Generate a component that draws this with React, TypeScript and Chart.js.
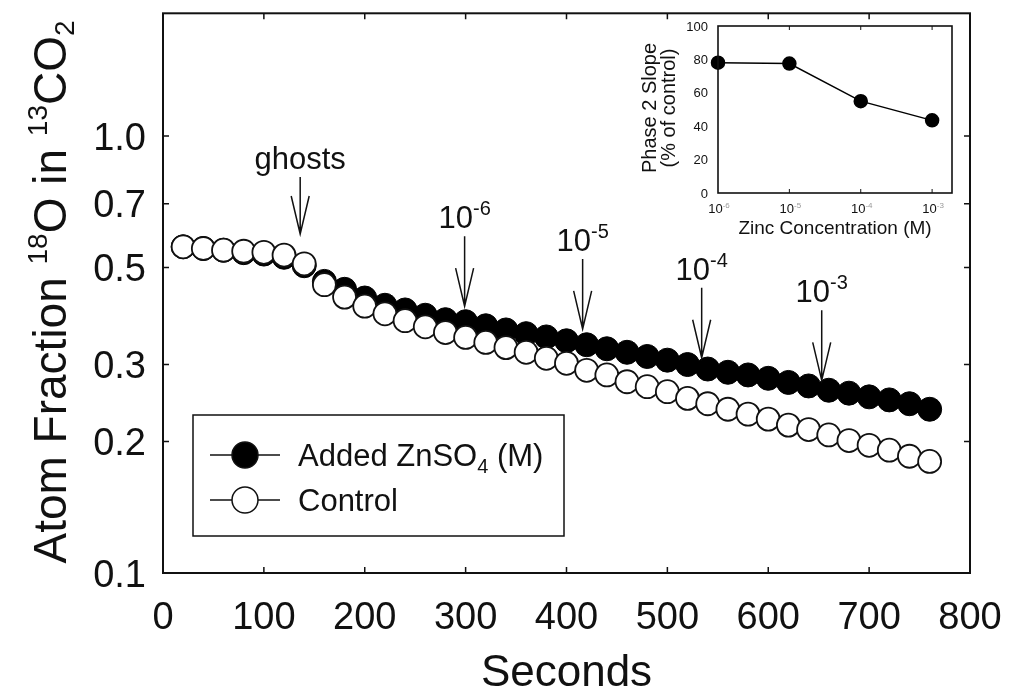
import React, { useEffect, useRef } from 'react';
import { Chart, registerables } from 'chart.js';

Chart.register(...registerables);

const FONT = '"Liberation Sans", Arial, Helvetica, sans-serif';

// ---------- main chart data ----------
const seconds = [20, 40, 60, 80, 100, 120, 140, 160, 180, 200, 220, 240, 260, 280, 300, 320, 340, 360, 380, 400,
  420, 440, 460, 480, 500, 520, 540, 560, 580, 600, 620, 640, 660, 680, 700, 720, 740, 760];
const controlFraction = [0.558, 0.553, 0.548, 0.545, 0.542, 0.534, 0.510, 0.457, 0.428, 0.408, 0.392, 0.378, 0.366,
  0.355, 0.346, 0.337, 0.328, 0.320, 0.310, 0.302, 0.291, 0.284, 0.274, 0.267, 0.260, 0.251, 0.244, 0.237, 0.231,
  0.225, 0.218, 0.213, 0.207, 0.201, 0.196, 0.191, 0.185, 0.180];
const zincFraction = [0.558, 0.553, 0.548, 0.541, 0.537, 0.528, 0.505, 0.465, 0.446, 0.426, 0.410, 0.400, 0.389,
  0.380, 0.376, 0.368, 0.360, 0.353, 0.347, 0.340, 0.333, 0.326, 0.320, 0.313, 0.307, 0.300, 0.293, 0.288, 0.284,
  0.279, 0.273, 0.268, 0.262, 0.258, 0.253, 0.249, 0.244, 0.237];
const xTickValues = [0, 100, 200, 300, 400, 500, 600, 700, 800];
const yTickValues = [0.1, 0.2, 0.3, 0.5, 0.7, 1.0];

const arrowSeconds = [136, 299, 416, 534, 653];
const arrowTipFraction = [0.597, 0.408, 0.362, 0.311, 0.276];
const arrowLabelBase = ['ghosts', '10', '10', '10', '10'];
const arrowLabelExp = ['', '-6', '-5', '-4', '-3'];

const legendNames = ['Added ZnSO', 'Control'];

// ---------- inset data ----------
const insetConcentration = [1e-6, 1e-5, 1e-4, 1e-3];
const insetSlope = [78, 77.5, 55, 43.5];
const insetError = [1, 1, 1.5, 3];
const insetYTicks = [0, 20, 40, 60, 80, 100];
const insetXTickExp = ['-6', '-5', '-4', '-3'];

type Part = { text: string; size: number; dy?: number; color?: string };

function partsWidth(ctx: CanvasRenderingContext2D, parts: Part[]) {
  let w = 0;
  for (const p of parts) {
    ctx.font = `${p.size}px ${FONT}`;
    w += ctx.measureText(p.text).width;
  }
  return w;
}

function drawParts(ctx: CanvasRenderingContext2D, parts: Part[], x: number, y: number, color = '#111') {
  ctx.textAlign = 'left';
  ctx.textBaseline = 'alphabetic';
  let cx = x;
  for (const p of parts) {
    ctx.font = `${p.size}px ${FONT}`;
    ctx.fillStyle = p.color || color;
    ctx.fillText(p.text, cx, y + (p.dy || 0));
    cx += ctx.measureText(p.text).width;
  }
}

const mainDecor = {
  id: 'mainDecor',
  afterDraw(chart: any) {
    const ctx: CanvasRenderingContext2D = chart.ctx;
    const { left, right, top, bottom } = chart.chartArea;
    const xs = chart.scales.x;
    const ys = chart.scales.y;
    ctx.save();
    ctx.strokeStyle = '#111';
    ctx.fillStyle = '#111';
    // frame
    ctx.lineWidth = 2;
    ctx.strokeRect(left, top, right - left, bottom - top);
    // inward ticks
    ctx.lineWidth = 1.5;
    ctx.beginPath();
    xTickValues.forEach((v) => {
      const px = xs.getPixelForValue(v);
      if (px > left + 2 && px < right - 2) {
        ctx.moveTo(px, bottom); ctx.lineTo(px, bottom - 6);
        ctx.moveTo(px, top); ctx.lineTo(px, top + 6);
      }
    });
    yTickValues.forEach((v) => {
      const py = ys.getPixelForValue(v);
      if (py > top + 2 && py < bottom - 2) {
        ctx.moveTo(left, py); ctx.lineTo(left + 6, py);
        ctx.moveTo(right, py); ctx.lineTo(right - 6, py);
      }
    });
    ctx.stroke();

    // tick labels
    ctx.font = `38px ${FONT}`;
    ctx.textBaseline = 'alphabetic';
    ctx.textAlign = 'center';
    xTickValues.forEach((v) => {
      ctx.fillText(String(v), xs.getPixelForValue(v), 629);
    });
    ctx.textAlign = 'right';
    yTickValues.forEach((v) => {
      ctx.fillText(v.toFixed(1), 146, ys.getPixelForValue(v) + 13.5);
    });

    // x title
    ctx.font = `44px ${FONT}`;
    ctx.textAlign = 'center';
    ctx.fillText('Seconds', (left + right) / 2, 686);

    // y title (rotated)
    const yParts: Part[] = [
      { text: 'Atom Fraction ', size: 46 },
      { text: '18', size: 28, dy: -19 },
      { text: 'O in ', size: 46 },
      { text: '13', size: 28, dy: -19 },
      { text: 'CO', size: 46 },
      { text: '2', size: 28, dy: 8 },
    ];
    const tw = partsWidth(ctx, yParts);
    ctx.save();
    ctx.translate(66, 292);
    ctx.rotate(-Math.PI / 2);
    drawParts(ctx, yParts, -tw / 2, 0);
    ctx.restore();

    // arrows with labels
    ctx.lineWidth = 1.5;
    arrowSeconds.forEach((s, i) => {
      const x = xs.getPixelForValue(s);
      const tip = ys.getPixelForValue(arrowTipFraction[i]);
      const len = i === 0 ? 57 : 70;
      const topY = tip - len;
      ctx.beginPath();
      ctx.moveTo(x, topY); ctx.lineTo(x, tip);
      ctx.moveTo(x - 9, tip - 38); ctx.lineTo(x, tip); ctx.lineTo(x + 9, tip - 38);
      ctx.stroke();
      const parts: Part[] = [{ text: arrowLabelBase[i], size: 31 }];
      if (arrowLabelExp[i]) parts.push({ text: arrowLabelExp[i], size: 20, dy: -13 });
      const w = partsWidth(ctx, parts);
      drawParts(ctx, parts, x - w / 2, topY - 8);
    });

    // legend
    const bx = 193, by = 415, bw = 371, bh = 121;
    ctx.fillStyle = '#fff';
    ctx.fillRect(bx, by, bw, bh);
    ctx.lineWidth = 1.5;
    ctx.strokeStyle = '#111';
    ctx.strokeRect(bx, by, bw, bh);
    const rows = [455, 500];
    rows.forEach((ry, i) => {
      ctx.beginPath();
      ctx.moveTo(210, ry); ctx.lineTo(280, ry);
      ctx.stroke();
      ctx.beginPath();
      ctx.arc(245, ry, 13, 0, Math.PI * 2);
      ctx.fillStyle = i === 0 ? '#000' : '#fff';
      ctx.fill();
      ctx.stroke();
      const parts: Part[] = i === 0
        ? [{ text: legendNames[0], size: 31 }, { text: '4', size: 20, dy: 7 }, { text: ' (M)', size: 31 }]
        : [{ text: legendNames[1], size: 31 }];
      drawParts(ctx, parts, 298, ry + 11);
    });
    ctx.restore();
  },
};

const insetDecor = {
  id: 'insetDecor',
  afterDatasetsDraw(chart: any) {
    const ctx: CanvasRenderingContext2D = chart.ctx;
    const xs = chart.scales.x;
    const ys = chart.scales.y;
    ctx.save();
    ctx.strokeStyle = '#000';
    ctx.lineWidth = 2.5;
    ctx.beginPath();
    insetConcentration.forEach((c, i) => {
      const px = xs.getPixelForValue(c);
      ctx.moveTo(px, ys.getPixelForValue(insetSlope[i] - insetError[i]));
      ctx.lineTo(px, ys.getPixelForValue(insetSlope[i] + insetError[i]));
    });
    ctx.stroke();
    ctx.restore();
  },
  afterDraw(chart: any) {
    const ctx: CanvasRenderingContext2D = chart.ctx;
    const { left, right, top, bottom } = chart.chartArea;
    const xs = chart.scales.x;
    const ys = chart.scales.y;
    ctx.save();
    ctx.strokeStyle = '#111';
    ctx.fillStyle = '#111';
    ctx.lineWidth = 1.6;
    ctx.strokeRect(left, top, right - left, bottom - top);
    ctx.lineWidth = 1;
    ctx.beginPath();
    insetConcentration.forEach((c) => {
      const px = xs.getPixelForValue(c);
      if (px > left + 2 && px < right - 2) {
        ctx.moveTo(px, bottom); ctx.lineTo(px, bottom - 4);
        ctx.moveTo(px, top); ctx.lineTo(px, top + 4);
      }
    });
    ctx.stroke();

    // y tick labels
    ctx.font = `13px ${FONT}`;
    ctx.textAlign = 'right';
    ctx.textBaseline = 'alphabetic';
    insetYTicks.forEach((v) => {
      ctx.fillText(String(v), left - 10, ys.getPixelForValue(v) + 4.5);
    });
    // x tick labels
    insetConcentration.forEach((c, i) => {
      const parts: Part[] = [{ text: '10', size: 13 }, { text: insetXTickExp[i], size: 8, dy: -5, color: '#999' }];
      const w = partsWidth(ctx, parts);
      drawParts(ctx, parts, xs.getPixelForValue(c) - w / 2 + 1, bottom + 20);
    });
    // x title
    ctx.font = `19px ${FONT}`;
    ctx.textAlign = 'center';
    ctx.fillStyle = '#111';
    ctx.fillText('Zinc Concentration (M)', (left + right) / 2, bottom + 41);
    // y title (two lines)
    ctx.save();
    ctx.translate(10, 98);
    ctx.rotate(-Math.PI / 2);
    ctx.textBaseline = 'middle';
    ctx.font = `20px ${FONT}`;
    ctx.fillText('Phase 2 Slope', 0, 0);
    ctx.fillText('(% of control)', 0, 19);
    ctx.restore();
    ctx.restore();
  },
};

export default function App() {
  const mainRef = useRef<HTMLCanvasElement>(null);
  const insetRef = useRef<HTMLCanvasElement>(null);

  useEffect(() => {
    if (!mainRef.current || !insetRef.current) return;
    const main = new Chart(mainRef.current, {
      type: 'scatter',
      data: {
        datasets: [
          {
            label: 'Control',
            data: seconds.map((s, i) => ({ x: s, y: controlFraction[i] })),
            showLine: false,
            pointRadius: 11.5,
            pointBackgroundColor: '#fff',
            pointBorderColor: '#111',
            pointBorderWidth: 1.8,
            clip: false,
          },
          {
            label: 'Added ZnSO4 (M)',
            data: seconds.map((s, i) => ({ x: s, y: zincFraction[i] })),
            showLine: false,
            pointRadius: 12,
            pointBackgroundColor: '#000',
            pointBorderColor: '#000',
            pointBorderWidth: 1,
            clip: false,
          },
        ],
      },
      options: {
        animation: false,
        responsive: false,
        events: [],
        layout: { padding: { top: 9, right: 42, left: 0, bottom: 0 } },
        plugins: { legend: { display: false }, tooltip: { enabled: false } },
        scales: {
          x: {
            type: 'linear', min: 0, max: 800,
            ticks: { display: false }, grid: { display: false }, border: { display: false },
            afterFit: (s: any) => { s.height = 127; },
          },
          y: {
            type: 'logarithmic', min: 0.1, max: 1.91,
            ticks: { display: false }, grid: { display: false }, border: { display: false },
            afterFit: (s: any) => { s.width = 163; },
          },
        },
      },
      plugins: [mainDecor],
    } as any);

    const inset = new Chart(insetRef.current, {
      type: 'scatter',
      data: {
        datasets: [
          {
            label: 'Phase 2 Slope',
            data: insetConcentration.map((c, i) => ({ x: c, y: insetSlope[i] })),
            showLine: true,
            borderColor: '#000',
            borderWidth: 1.5,
            pointRadius: 6.5,
            pointBackgroundColor: '#000',
            pointBorderColor: '#000',
            clip: false,
          },
        ],
      },
      options: {
        animation: false,
        responsive: false,
        events: [],
        layout: { padding: { top: 16, right: 18, left: 0, bottom: 0 } },
        plugins: { legend: { display: false }, tooltip: { enabled: false } },
        scales: {
          x: {
            type: 'logarithmic', min: 1e-6, max: 1.9e-3,
            ticks: { display: false }, grid: { display: false }, border: { display: false },
            afterFit: (s: any) => { s.height = 57; },
          },
          y: {
            type: 'linear', min: 0, max: 100,
            ticks: { display: false }, grid: { display: false }, border: { display: false },
            afterFit: (s: any) => { s.width = 78; },
          },
        },
      },
      plugins: [insetDecor],
    } as any);

    return () => {
      main.destroy();
      inset.destroy();
    };
  }, []);

  return (
    <div style={{ position: 'absolute', left: 0, top: 0, width: 1012, height: 700, background: '#fff' }}>
      <canvas ref={mainRef} width={1012} height={700} style={{ position: 'absolute', left: 0, top: 0 }} />
      <canvas ref={insetRef} width={330} height={240} style={{ position: 'absolute', left: 640, top: 10 }} />
    </div>
  );
}
